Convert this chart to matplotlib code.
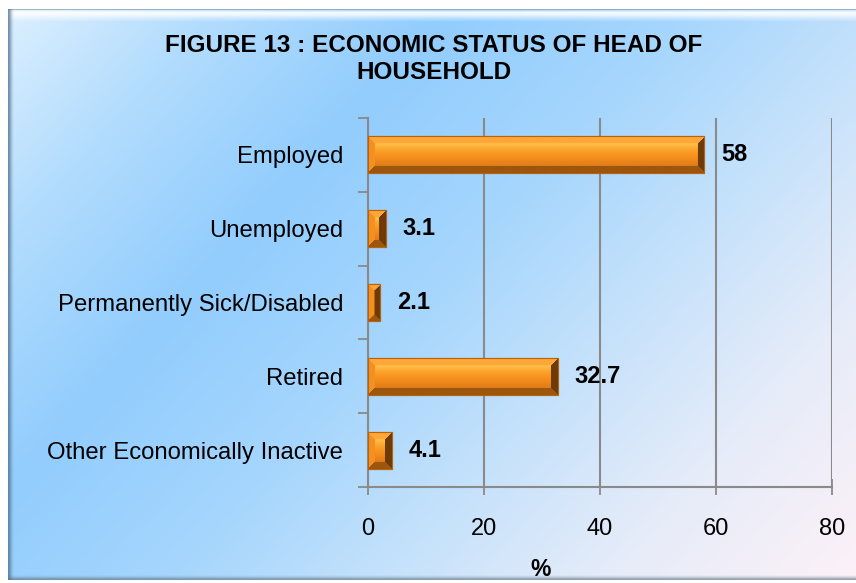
import numpy as np
import matplotlib
matplotlib.use("Agg")
import matplotlib.pyplot as plt
from matplotlib.colors import LinearSegmentedColormap, to_rgb

# ---------------- data ----------------
categories = ["Employed", "Unemployed", "Permanently Sick/Disabled",
              "Retired", "Other Economically Inactive"]
values = [58, 3.1, 2.1, 32.7, 4.1]
value_labels = ["58", "3.1", "2.1", "32.7", "4.1"]
x_ticks = [0, 20, 40, 60, 80]
title = "FIGURE 13 : ECONOMIC STATUS OF HEAD OF\nHOUSEHOLD"
x_label = "%"

W, H = 856, 583
DPI = 100
plt.rcParams['font.family'] = ['Liberation Sans', 'DejaVu Sans']

fig = plt.figure(figsize=(W / DPI, H / DPI), dpi=DPI)
fig.patch.set_facecolor("white")

# ---------------- background frame ----------------
bg = fig.add_axes([0, 0, 1, 1], zorder=0)
bg.set_xlim(0, W)
bg.set_ylim(H, 0)
bg.axis("off")

fx0, fx1, fy0, fy1 = 8, W, 9, 580
nx, ny = 400, 280
xs = np.linspace(0, 1, nx)
ys = np.linspace(0, 1, ny)
XX, YY = np.meshgrid(xs, ys)
T = 0.62 * XX + 0.38 * YY
stops = [(0.0, "#dcefff"), (0.15, "#b2dcfd"), (0.32, "#92cdfd"),
         (0.5, "#a6d6fd"), (0.66, "#c6e2fb"), (0.82, "#e6ecf9"),
         (1.0, "#fdf1f7")]
cmap = LinearSegmentedColormap.from_list("bgc", stops)
bg.imshow(cmap(T), extent=(fx0, fx1, fy1, fy0), aspect="auto",
          interpolation="bilinear", zorder=0)

# bevel edges of frame
def band(extent, rgb, alphas, horizontal):
    a = np.array(alphas, dtype=float)
    if horizontal:
        img = np.zeros((len(a), 2, 4))
        img[:, :, :3] = rgb
        img[:, :, 3] = a[:, None]
    else:
        img = np.zeros((2, len(a), 4))
        img[:, :, :3] = rgb
        img[:, :, 3] = a[None, :]
    bg.imshow(img, extent=extent, aspect="auto", interpolation="bilinear", zorder=1)

# top highlight
band((fx0, fx1, fy0 + 14, fy0), to_rgb("#ffffff"),
     [0.2, 0.9, 0.8, 0.5, 0.25, 0.0], True)
band((fx0, fx1, fy0 + 2, fy0), to_rgb("#8899aa"), [0.7, 0.0], True)
# left shadow
band((fx0, fx0 + 7, fy1, fy0), to_rgb("#4f6f90"), [0.75, 0.45, 0.15, 0.0], False)
# bottom shadow
band((fx0, fx1, fy1, fy1 - 6), to_rgb("#5a7080"), [0.0, 0.2, 0.6], True)

# ---------------- main axes ----------------
ax_l, ax_r, ax_t, ax_b = 368, 832, 118, 487
ax = fig.add_axes([ax_l / W, 1 - ax_b / H, (ax_r - ax_l) / W, (ax_b - ax_t) / H],
                  zorder=2)
ax.set_facecolor("none")
n = len(categories)
ypos = np.arange(n)
ax.set_xlim(x_ticks[0], x_ticks[-1])
ax.set_ylim(n - 0.5, -0.5)

grid_c = "#8a8a8a"
for s in ["top", "right"]:
    ax.spines[s].set_visible(False)
for s in ["left", "bottom"]:
    ax.spines[s].set_color(grid_c)
    ax.spines[s].set_linewidth(1.5)

ax.set_xticks(x_ticks)
ax.set_xticklabels([str(t) for t in x_ticks], fontsize=17)
ax.tick_params(axis="x", direction="inout", length=12, width=1.3, color=grid_c, pad=16)
ax.xaxis.grid(True, color=grid_c, linewidth=1.5)
ax.set_axisbelow(True)

ax.set_yticks(ypos)
ax.set_yticklabels(categories, fontsize=17.2)
ax.tick_params(axis="y", length=0, pad=18)
ax.set_yticks(np.arange(n + 1) - 0.5, minor=True)
ax.tick_params(axis="y", which="minor", direction="out", length=7, width=1.3, color=grid_c)

# ---------------- bevelled bars ----------------
bar_h = 0.5
bars = ax.barh(ypos, values, height=bar_h, color="#f7921e",
               edgecolor="#b8620c", linewidth=0.8, zorder=3)

def hexrgb(h):
    return np.array(to_rgb(h))

c_top = hexrgb("#ffa638")
c_bot = hexrgb("#9c560e")
c_left = hexrgb("#f49020")
c_right = hexrgb("#6e3a08")

for rect in bars:
    x0, y0 = rect.get_x(), rect.get_y()
    w, h = rect.get_width(), rect.get_height()
    p0 = ax.transData.transform((x0, y0))
    p1 = ax.transData.transform((x0 + w, y0 + h))
    pw = max(2, int(round(abs(p1[0] - p0[0]))))
    ph = max(2, int(round(abs(p1[1] - p0[1]))))
    b = min(7, pw / 2.0)
    jj, ii = np.meshgrid(np.arange(pw) + 0.5, np.arange(ph) + 0.5)
    d_top = ii
    d_bot = ph - ii
    d_left = jj
    d_right = pw - jj
    fr = ii / ph
    prof_pos = [0.0, 0.22, 0.35, 0.55, 0.75, 1.0]
    prof_col = [hexrgb(c) for c in ["#f9951f", "#ffbf48", "#fba62e",
                                     "#f7901c", "#e5801a", "#c86e12"]]
    img = np.zeros((ph, pw, 3))
    for k in range(3):
        img[:, :, k] = np.interp(fr, prof_pos, [c[k] for c in prof_col])
    dmin = np.minimum(np.minimum(d_top, d_bot), np.minimum(d_left, d_right))
    inb = dmin < b
    which = np.argmin(np.stack([d_top, d_bot, d_left, d_right]), axis=0)
    for idx, col in enumerate([c_top, c_bot, c_left, c_right]):
        m = inb & (which == idx)
        img[m] = col
    ext = (x0, x0 + w, y0 + h, y0)
    ax.imshow(img, extent=ext, aspect="auto", interpolation="bilinear",
              origin="upper", zorder=3.5, clip_on=True)
    ax.add_patch(plt.Rectangle((x0, y0), w, h, fill=False,
                               edgecolor="#b8620c", linewidth=0.8, zorder=4))

ax.set_xlim(x_ticks[0], x_ticks[-1])
ax.set_ylim(n - 0.5, -0.5)
ax.set_aspect("auto")

for yv, v, lab in zip(ypos, values, value_labels):
    ax.annotate(lab, xy=(v, yv), xytext=(12, 0), textcoords="offset points",
                ha="left", va="center", fontsize=17, fontweight="bold",
                color="black", zorder=5)

# ---------------- texts ----------------
fig.text(434 / W, 1 - 59 / H, title, ha="center", va="center",
         fontsize=17.5, fontweight="bold", linespacing=1.2)
fig.text(541 / W, 1 - 570 / H, x_label, ha="center", va="center",
         fontsize=16.5, fontweight="bold")

fig.savefig("out.png", dpi=DPI)
